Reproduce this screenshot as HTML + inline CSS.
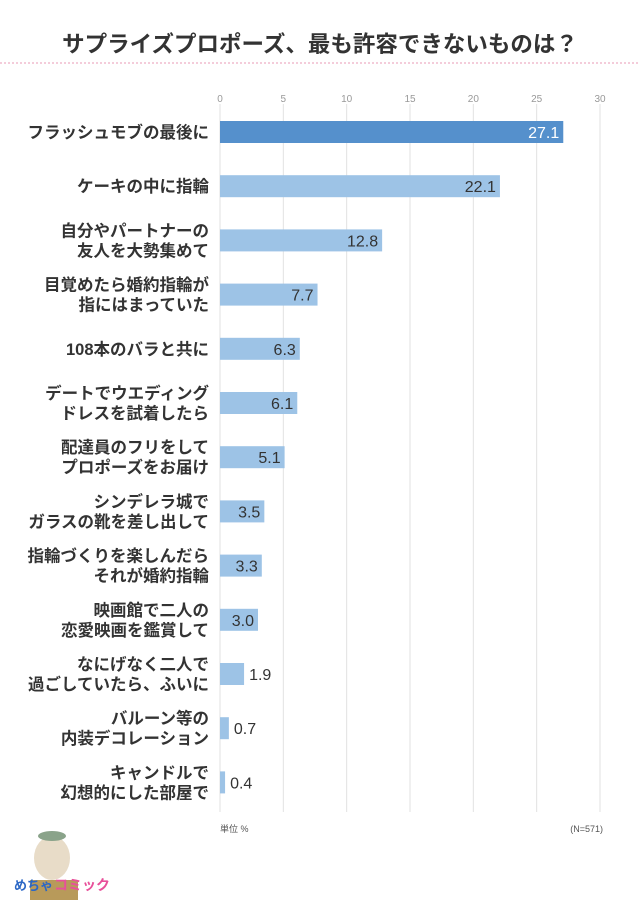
<!DOCTYPE html>
<html><head><meta charset="utf-8"><style>
body{margin:0;background:#fff;width:640px;height:900px;overflow:hidden;font-family:"Liberation Sans","Noto Sans CJK JP",sans-serif}
</style></head><body>
<svg id="c" width="640" height="900" xmlns="http://www.w3.org/2000/svg">
<text x="320" y="52" text-anchor="middle" font-size="22.5" font-weight="bold" fill="#333" font-family="Liberation Sans,Noto Sans CJK JP,sans-serif">サプライズプロポーズ、最も許容できないものは？</text>
<line x1="0" y1="63" x2="640" y2="63" stroke="#e89ab5" stroke-width="1" stroke-dasharray="2,2"/>
<text x="220" y="832" font-size="9" fill="#555">単位 %</text>
<text x="603" y="832" font-size="9" fill="#555" text-anchor="end">(N=571)</text>
<g>
<ellipse cx="52" cy="858" rx="18" ry="22" fill="#e8dcc8"/>
<ellipse cx="52" cy="836" rx="14" ry="5" fill="#8aa38a"/>
<rect x="30" y="880" width="48" height="20" fill="#b89a5a"/>
<text x="14" y="890" font-size="13" font-weight="bold" fill="#2b67c5">めちゃ</text>
<text x="54" y="890" font-size="14" font-weight="bold" fill="#e8509a">コミック</text>
</g>
<g id="plot"></g>
</svg>
<script>
const categories=[["フラッシュモブの最後に"],["ケーキの中に指輪"],["自分やパートナーの","友人を大勢集めて"],["目覚めたら婚約指輪が","指にはまっていた"],["108本のバラと共に"],["デートでウエディング","ドレスを試着したら"],["配達員のフリをして","プロポーズをお届け"],["シンデレラ城で","ガラスの靴を差し出して"],["指輪づくりを楽しんだら","それが婚約指輪"],["映画館で二人の","恋愛映画を鑑賞して"],["なにげなく二人で","過ごしていたら、ふいに"],["バルーン等の","内装デコレーション"],["キャンドルで","幻想的にした部屋で"]];
const values=[27.1,22.1,12.8,7.7,6.3,6.1,5.1,3.5,3.3,3.0,1.9,0.7,0.4];
const ticks=[0,5,10,15,20,25,30];
const NS="http://www.w3.org/2000/svg";
const g=document.getElementById('plot');
const x=v=>220+v*(380/30);
const y=i=>132+i*54.2;
function el(t,a){const e=document.createElementNS(NS,t);for(const k in a)e.setAttribute(k,a[k]);g.appendChild(e);return e;}
ticks.forEach(t=>{
 const l=el('line',{x1:x(t),x2:x(t),y1:104,y2:812,stroke:'#e2e2e2','stroke-width':1});
 
 
 const tx=el('text',{x:x(t),y:102,'text-anchor':'middle','font-size':10,fill:'#999'});tx.textContent=t;
 
 
});
values.forEach((v,i)=>{
 const cy=y(i);
 const r=el('rect',{x:x(0),y:cy-11,width:x(v)-x(0),height:22,fill:i===0?'#5590cc':'#9dc3e6'});
 
 
 const lab=v.toFixed(1);
 const inside=v>=3;
 const t=el('text',{x:inside?x(v)-4:x(v)+5,y:cy+6,'text-anchor':inside?'end':'start','font-size':16,fill:i===0?'#fff':'#333'});
 t.textContent=lab;
 
 
 const lines=categories[i];
 lines.forEach((s,k)=>{
  const off=lines.length===1?6:(k===0?-4:16);
  const ct=el('text',{x:209,y:cy+off,'text-anchor':'end','font-size':16.5,'font-weight':'bold',fill:'#333'});
  ct.textContent=s;
  
  
 });
});
</script>
</body></html>
